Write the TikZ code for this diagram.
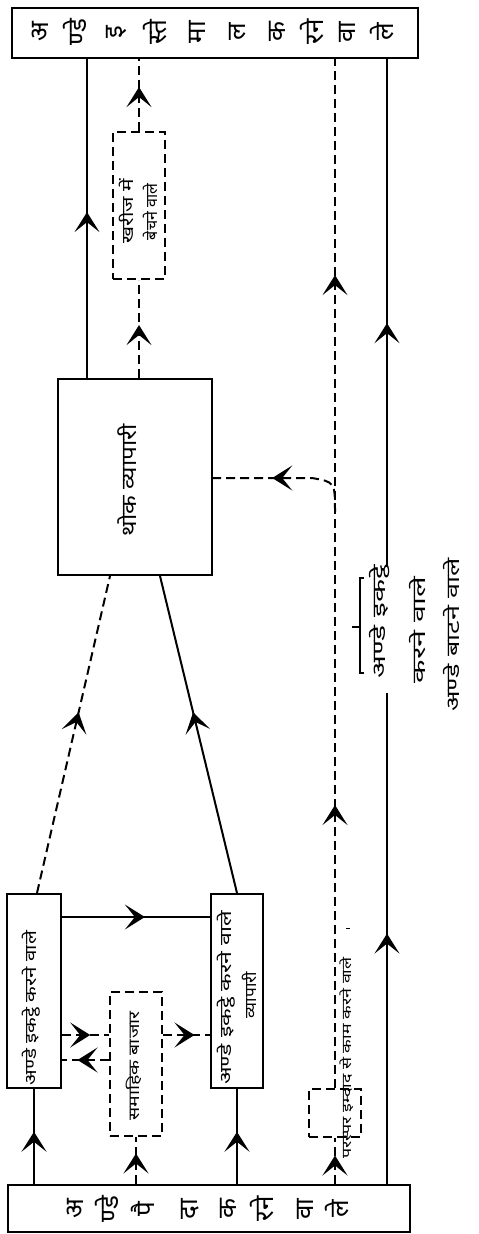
\documentclass[tikz,border=0pt]{standalone}
\usepackage{fontspec}
\newfontfamily\hindi[Script=Devanagari]{Noto Sans}
\usetikzlibrary{arrows.meta,decorations.markings,calc}
\tikzset{
  chev/.tip={Stealth[length=20pt,width=25pt,inset=10pt]},
  box/.style={draw,line width=2pt,inner sep=0pt,rectangle},
  dbox/.style={box,dash pattern=on 9pt off 5pt},
  conn/.style={line width=2pt},
  dconn/.style={conn,dash pattern=on 9pt off 5pt},
  arrowat/.style={postaction={decorate,decoration={markings,mark=at position #1 with {\pgfsetdash{}{0pt}\arrow{chev}}}}},
  lbl/.style={rotate=90,align=center,inner sep=0pt},
  glyph/.style={font=\hindi\fontsize{26}{28}\selectfont,rotate=90,inner sep=0pt},
}
\newcommand{\fs}[1]{\hindi\fontsize{#1}{#1}\selectfont}
\begin{document}
\begin{tikzpicture}[x=1pt,y=-1pt]
\fill[white] (0,0) rectangle (479,1234);
\useasboundingbox (0,0) rectangle (479,1234);
% boxes
\node[box,minimum width=406pt,minimum height=50pt] (T) at (215,33) {};
\node[box,minimum width=402pt,minimum height=47pt] (B) at (209,1208.5) {};
\node[box,minimum width=54pt,minimum height=194pt] (L1) at (34,991) {};
\node[box,minimum width=52pt,minimum height=194pt] (L2) at (237,991) {};
\node[dbox,minimum width=52pt,minimum height=144pt] (M) at (136,1064) {};
\node[dbox,minimum width=52pt,minimum height=48pt] (C) at (335,1113) {};
\node[box,minimum width=154pt,minimum height=196pt] (W) at (135,477) {};
\node[dbox,minimum width=52pt,minimum height=147pt] (R) at (139,205.5) {};
% box texts
\foreach \g/\x [count=\i] in {अ/40,ण्डे/75,इ/117,स्ते/155,मा/197,ल/238,क/277,रने/312,वा/347,ले/382}
  \node[glyph] (t\i) at (\x,32) {\g};
\foreach \g/\x [count=\i] in {अ/75,ण्डे/107,पै/143,दा/190,क/228,रने/262,वा/305,ले/337}
  \node[glyph] (b\i) at (\x,1209) {\g};
\node[lbl,xscale=1.28,font=\fs{16}] (L1t) at (31,1008) {अण्डे इकट्ठे करने वाले};
\node[lbl,xscale=1.44,font=\fs{16}] (L2t) at (226,998) {अण्डे इकट्ठे करने वाले};
\node[lbl,xscale=1.08,font=\fs{16}] (L2u) at (249,995) {व्यापारी};
\node[lbl,xscale=1.3,font=\fs{15}] (Mt) at (134,1066) {समाहिक बाजार};
\node[lbl,xscale=1.16,font=\fs{21}] (Wt) at (127,480) {थोक व्यापारी};
\node[lbl,xscale=1.3,font=\fs{16}] (Rt) at (126,211) {खरीज में};
\node[lbl,xscale=1.0,font=\fs{16}] (Ru) at (150,212) {बेचने वाले};
\node[lbl,xscale=1.37,font=\fs{13}] (Ct) at (347,1058) {परस्पर इम्दाद से काम करने वाले};
\node[lbl,xscale=1.67,font=\fs{18}] (A1) at (380,622) {अण्डे इकट्ठे};
\node[lbl,xscale=1.7,font=\fs{18}] (A2) at (418,630) {करने वाले};
\node[lbl,xscale=1.5,font=\fs{18}] (A3) at (452,635) {अण्डे बाटने वाले};
% helper coordinates
\coordinate (hA) at (0,1035);
\coordinate (hB) at (0,1060);
\coordinate (hC) at (0,917);
\coordinate (hD) at (0,478);
\coordinate (vA) at (87,0);
\coordinate (vR) at (387,0);
\coordinate (gLo) at (387,693);
\coordinate (gHi) at (387,567);
\coordinate (br) at (335,512);
% connectors from producers
\draw[conn,arrowat=0.55] (B.north -| L1) -- (L1.south);
\draw[dconn,arrowat=0.65] (B.north -| M) -- (M.south);
\draw[conn,arrowat=0.55] (B.north -| L2) -- (L2.south);
\draw[dconn,arrowat=0.62] (B.north -| C) -- (C.south);
\draw[conn,arrowat=0.51] (B.north -| vR) -- (gLo);
\draw[conn,arrowat=0.48] (gHi) -- (T.south -| vR);
\draw[dconn,arrowat=0.275,arrowat=0.79] (C.north) -- (T.south -| C);
\draw[dconn,arrowat=0.6] (br) .. controls (335,482) .. (312,478) -- (W.east |- hD);
% between collectors and market
\draw[conn,arrowat=0.56] (L1.east |- hC) -- (L2.west |- hC);
\draw[dconn,arrowat=0.6] (L1.east |- hA) -- (M.west |- hA);
\draw[dconn,arrowat=0.67] (M.west |- hB) -- (L1.east |- hB);
\draw[dconn,arrowat=0.67] (M.east |- hA) -- (L2.west |- hA);
% to wholesaler
\draw[dconn,arrowat=0.57] ($(L1.north)+(3,0)$) -- ($(W.south)+(-25,0)$);
\draw[conn,arrowat=0.57] (L2.north) -- ($(W.south)+(25,0)$);
% to consumers
\draw[conn,arrowat=0.52] (W.north -| vA) -- (T.south -| vA);
\draw[dconn,arrowat=0.54] (W.north -| R) -- (R.south);
\draw[dconn,arrowat=0.61] (R.north) -- (T.south -| R);
% bracket and mark
\draw[line width=1.5pt] (364,578) -- (360,578) -- (360,673) -- (364,673);
\draw[line width=1.5pt] (352,627) -- (360,627);
\draw[line width=1pt] (346,928) -- (350,928);
\end{tikzpicture}
\end{document}
